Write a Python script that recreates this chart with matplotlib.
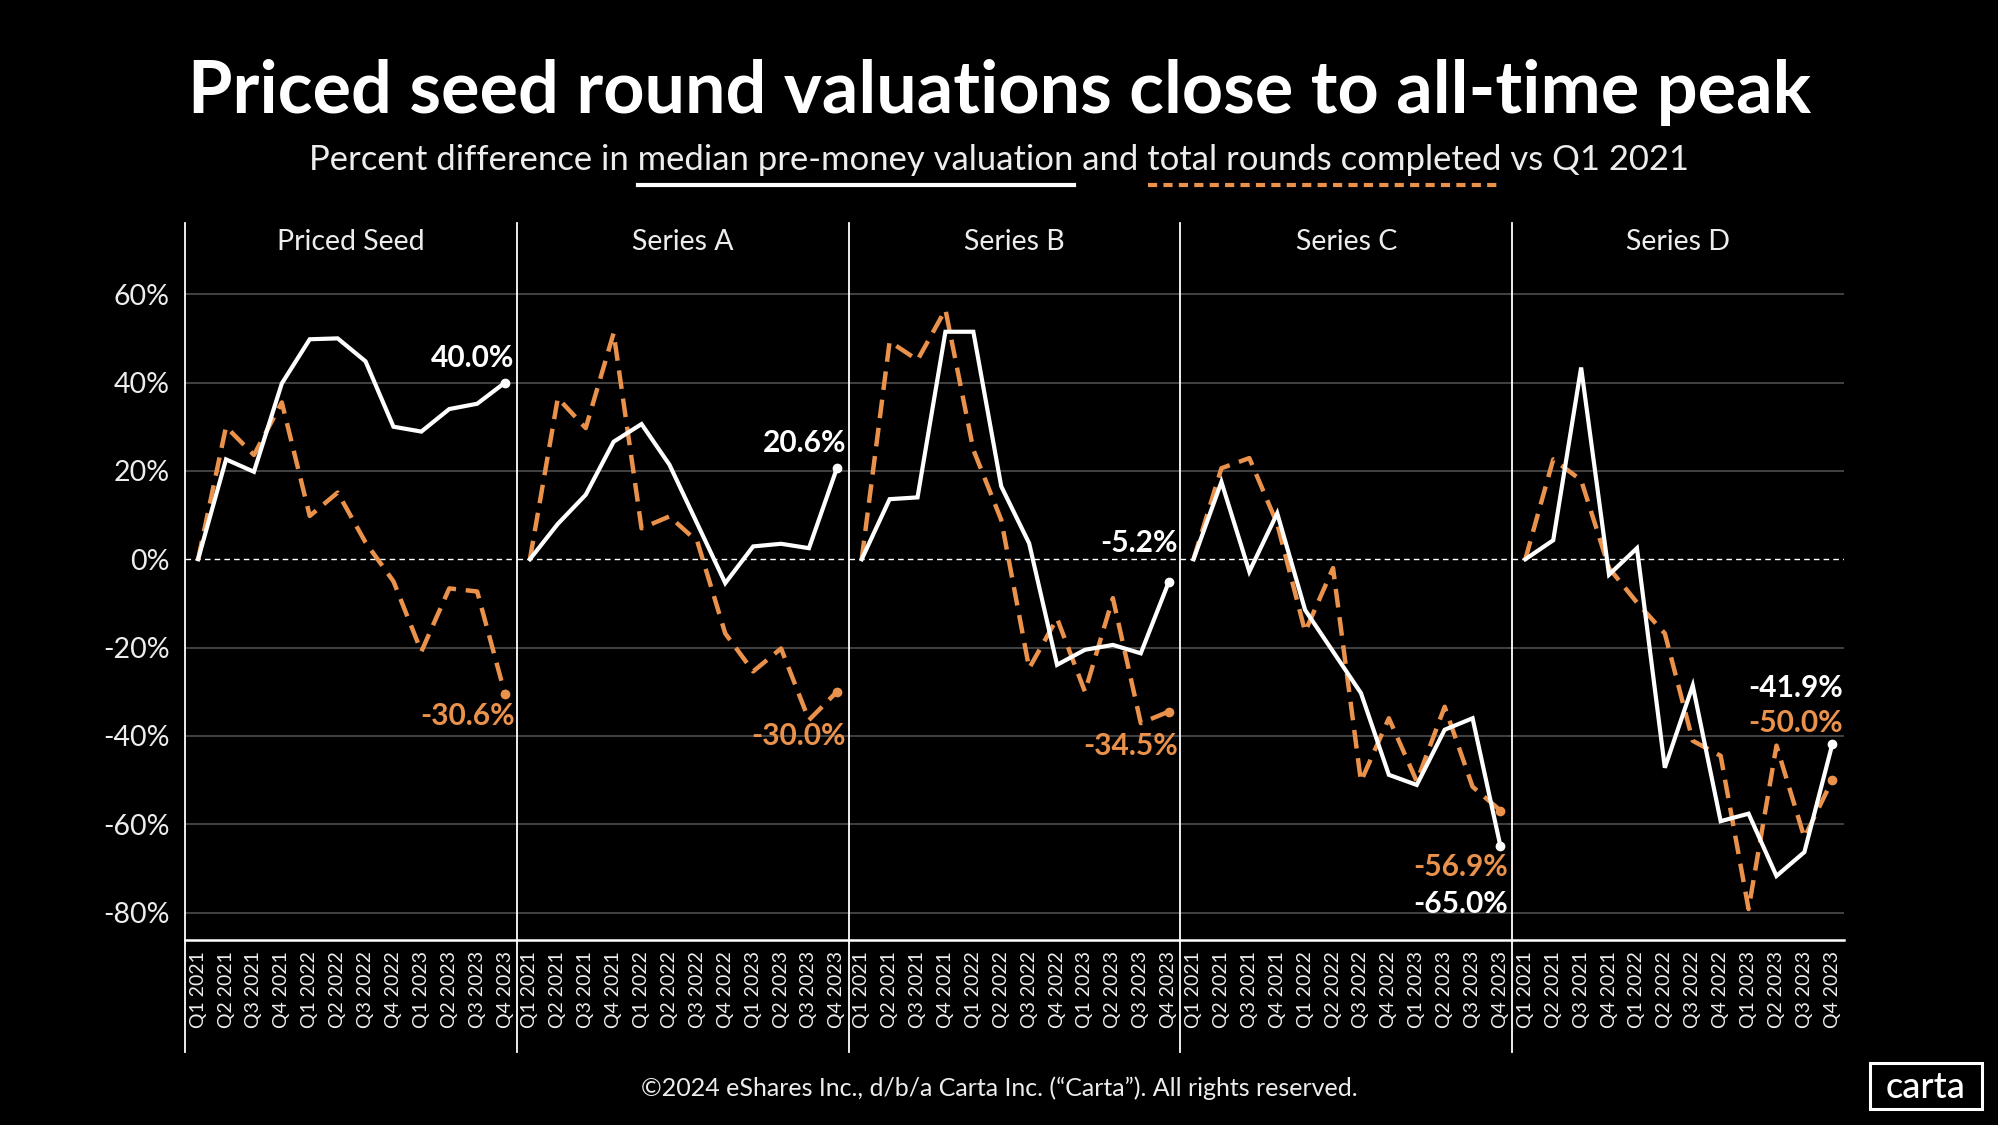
import matplotlib
matplotlib.use("Agg")
import matplotlib.pyplot as plt
from matplotlib.lines import Line2D
from matplotlib.patches import Rectangle

# ---------------- data ----------------
quarters = ["Q1 2021", "Q2 2021", "Q3 2021", "Q4 2021",
            "Q1 2022", "Q2 2022", "Q3 2022", "Q4 2022",
            "Q1 2023", "Q2 2023", "Q3 2023", "Q4 2023"]
panels = ["Priced Seed", "Series A", "Series B", "Series C", "Series D"]

seed_val = [0, 22.6, 19.8, 39.8, 49.8, 50.0, 44.8, 30.0, 28.9, 34.0, 35.2, 40.0]
seed_rounds = [0, 30.0, 23.6, 35.5, 9.8, 15.1, 3.8, -5.0, -20.9, -6.6, -7.3, -30.6]
a_val = [0, 8.0, 14.6, 26.6, 30.6, 21.4, 8.0, -5.4, 2.9, 3.5, 2.5, 20.6]
a_rounds = [0, 36.5, 29.7, 51.2, 7.0, 9.7, 4.0, -16.8, -25.4, -20.2, -36.4, -30.0]
b_val = [0, 13.6, 14.0, 51.5, 51.5, 16.5, 3.6, -23.9, -20.5, -19.4, -21.3, -5.2]
b_rounds = [0, 49.3, 45.1, 56.5, 24.8, 8.9, -24.7, -13.4, -30.0, -8.8, -37.1, -34.5]
c_val = [0, 17.5, -2.8, 10.4, -11.5, -20.9, -30.3, -48.8, -51.1, -38.6, -36.0, -65.0]
c_rounds = [0, 20.6, 22.9, 8.0, -16.4, -2.0, -50.3, -36.0, -50.3, -33.4, -51.5, -56.9]
d_val = [0, 4.3, 43.4, -3.5, 2.5, -47.2, -28.6, -59.3, -57.6, -71.7, -66.3, -41.9]
d_rounds = [0, 22.6, 17.9, -2.0, -9.8, -16.8, -41.1, -44.5, -79.2, -42.2, -63.0, -50.0]

valuation = [seed_val, a_val, b_val, c_val, d_val]
rounds = [seed_rounds, a_rounds, b_rounds, c_rounds, d_rounds]
yticks = [60, 40, 20, 0, -20, -40, -60, -80]

title = "Priced seed round valuations close to all-time peak"
sub_a = "Percent difference in "
sub_b = "median pre-money valuation"
sub_c = " and "
sub_d = "total rounds completed"
sub_e = " vs Q1 2021"
footer = "\u00a92024 eShares Inc., d/b/a Carta Inc. (\u201cCarta\u201d). All rights reserved."

# ---------------- style ----------------
W, H = 1999, 1125
FONT = ["Lato", "DejaVu Sans"]
plt.rcParams["font.family"] = FONT
ORANGE = "#EA924B"
WHITE = "#FFFFFF"
GRID = "#4d4d4d"
TXT = "#EDEDED"

# label offsets (pixels) for the end-value annotations: (white, orange)
label_offsets = [((9, 25), (10, -22)),
                 ((9, 25), (9, -44)),
                 ((9, 39), (9, -34)),
                 ((8, -58), (8, -56)),
                 ((11, 56), (11, 57))]

fig = plt.figure(figsize=(W / 100, H / 100), dpi=100, facecolor="black")
fig.canvas.draw()
renderer = fig.canvas.get_renderer()


def fx(px):
    return px / W


def fy(py):
    return 1 - py / H


def text_width(s, **kw):
    t = fig.text(0, 0, s, **kw)
    w = t.get_window_extent(renderer=renderer).width
    t.remove()
    return w


def fit_size(s, target, **kw):
    w = text_width(s, fontsize=20, **kw)
    return 20 * target / w


left0, right0 = 185, 1844
top_px, bot_px = 273, 940
pw = (right0 - left0) / 5
x = list(range(len(quarters)))

for i, name in enumerate(panels):
    ax = fig.add_axes([fx(left0 + i * pw), fy(bot_px), fx(pw), (bot_px - top_px) / H])
    ax.set_facecolor("black")
    ax.set_xlim(-0.47, 11.42)
    ax.set_ylim(-86.2, 64.8)
    for s in ax.spines.values():
        s.set_visible(False)
    for yv in yticks:
        if yv == 0:
            ax.axhline(yv, color=WHITE, lw=1.0, dashes=(4, 3), zorder=1)
        else:
            ax.axhline(yv, color=GRID, lw=1.2, zorder=0)
    ax.set_xticks(x)
    ax.set_xticklabels(quarters, rotation=90, fontsize=14, color=TXT)
    ax.tick_params(axis="x", length=0, pad=8)
    ax.set_yticks(yticks)
    if i == 0:
        ax.set_yticklabels([f"{v}%" for v in yticks], fontsize=20.5, color=TXT)
        ax.tick_params(axis="y", length=0, pad=11)
    else:
        ax.set_yticklabels([])
        ax.tick_params(axis="y", length=0)

    rv = rounds[i]
    vv = valuation[i]
    ax.plot(x, rv, color=ORANGE, lw=3.2, dashes=(4.2, 2.2), zorder=3,
            solid_joinstyle="miter")
    ax.plot(x[-1], rv[-1], "o", color=ORANGE, ms=6, zorder=3)
    ax.plot(x, vv, color=WHITE, lw=3.0, zorder=4, solid_joinstyle="miter")
    ax.plot(x[-1], vv[-1], "o", color=WHITE, ms=6, zorder=4)

    (wo, oo) = label_offsets[i]
    ax.annotate(f"{vv[-1]:.1f}%", (x[-1], vv[-1]), xytext=wo, textcoords="offset pixels",
                ha="right", va="center", color=WHITE, fontsize=21.5, fontweight="bold",
                annotation_clip=False, zorder=6)
    ax.annotate(f"{rv[-1]:.1f}%", (x[-1], rv[-1]), xytext=oo, textcoords="offset pixels",
                ha="right", va="center", color=ORANGE, fontsize=21.5, fontweight="bold",
                annotation_clip=False, zorder=6)

    # strip title
    fig.text(fx(left0 + (i + 0.5) * pw), fy(242), name, ha="center", va="center",
             color=TXT, fontsize=20.5)
    # divider line
    fig.add_artist(Line2D([fx(left0 + i * pw)] * 2, [fy(223), fy(1052)],
                          color=WHITE, lw=1.3))

# bottom axis line
fig.add_artist(Line2D([fx(left0), fx(right0)], [fy(bot_px)] * 2, color=WHITE, lw=1.8))

# title
ts = fit_size(title, 1624, fontweight="bold")
fig.text(0.5, fy(92), title, ha="center", va="center", color=WHITE,
         fontsize=ts, fontweight="bold")

# subtitle with underlines
full_sub = sub_a + sub_b + sub_c + sub_d + sub_e
ss = fit_size(full_sub, 1382)
kw = dict(fontsize=ss)
total_w = text_width(full_sub, **kw)
sub_left = W / 2 - total_w / 2
fig.text(0.5, fy(160), full_sub, ha="center", va="center", color=TXT, **kw)
b_end = text_width(sub_a + sub_b, **kw)
b_start = b_end - text_width(sub_b, **kw)
d_end = text_width(sub_a + sub_b + sub_c + sub_d, **kw)
d_start = d_end - text_width(sub_d, **kw)
fig.add_artist(Line2D([fx(sub_left + b_start), fx(sub_left + b_end)], [fy(185)] * 2,
                      color=WHITE, lw=3))
fig.add_artist(Line2D([fx(sub_left + d_start), fx(sub_left + d_end)], [fy(185)] * 2,
                      color=ORANGE, lw=3, dashes=(2.2, 1.5)))

# footer
fs = fit_size(footer, 719)
fig.text(0.5, fy(1088), footer, ha="center", va="center", color=TXT, fontsize=fs)

# logo
fig.add_artist(Rectangle((fx(1870), fy(1109)), fx(112), 46 / H, fill=False,
                         edgecolor=WHITE, lw=2.2))
ls = fit_size("carta", 80, fontweight="medium")
fig.text(fx(1926), fy(1087), "carta", ha="center", va="center", color=WHITE,
         fontsize=ls, fontweight="medium")

fig.savefig("out.png", dpi=100, facecolor="black")
